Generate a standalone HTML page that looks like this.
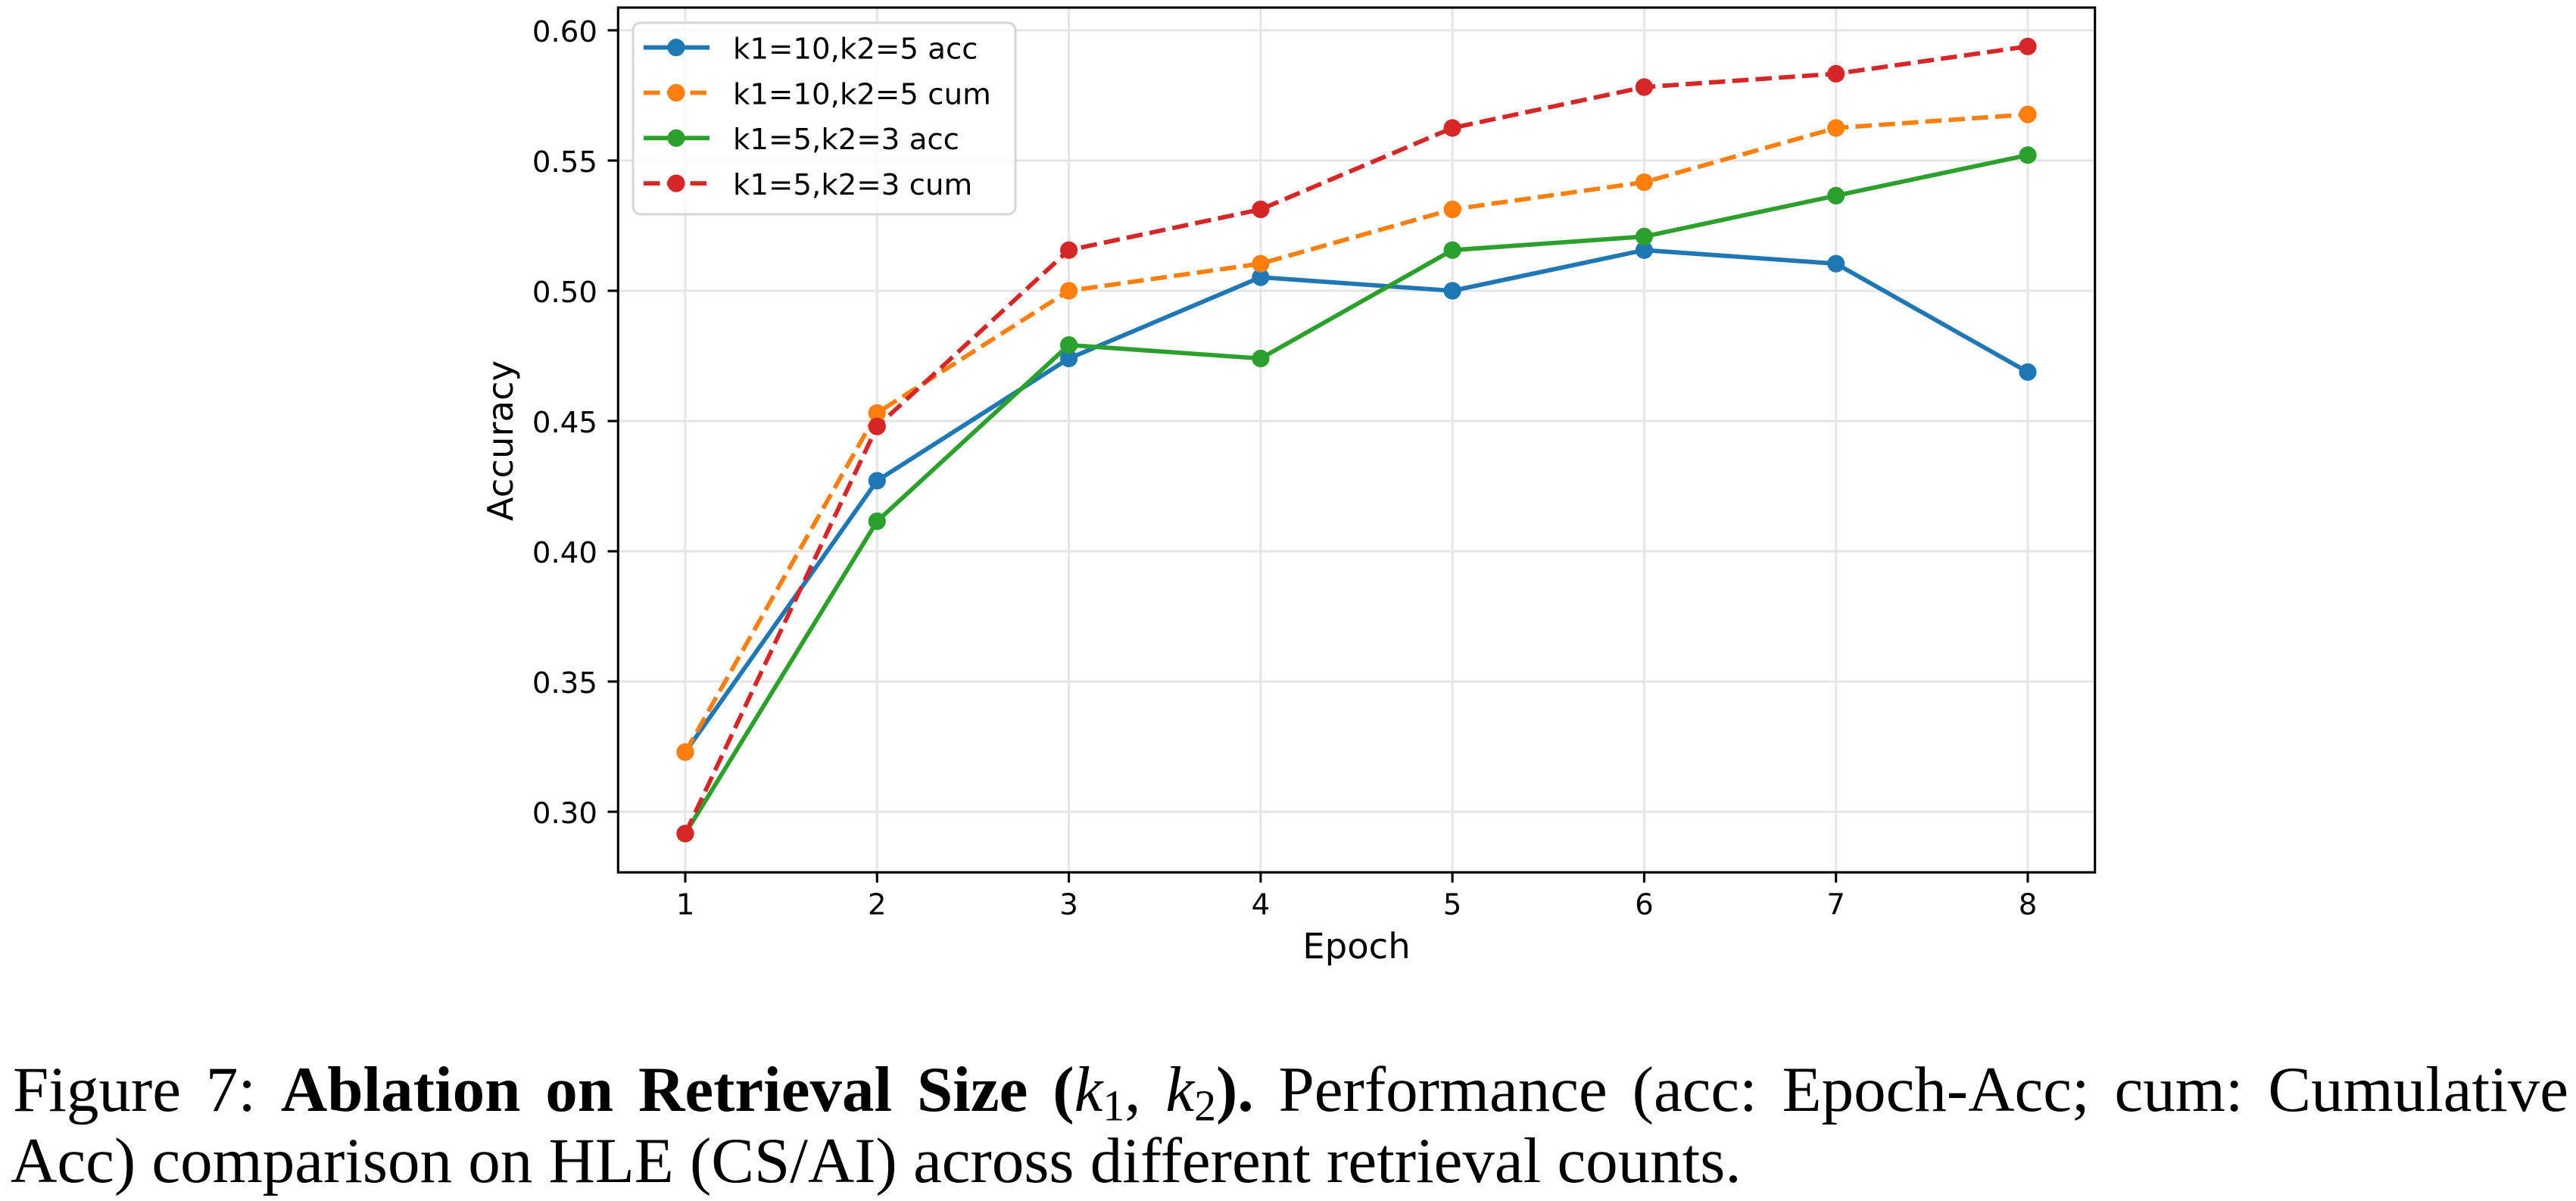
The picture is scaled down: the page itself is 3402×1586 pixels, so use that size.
<!DOCTYPE html>
<html>
<head>
<meta charset="utf-8">
<style>
  html, body { margin:0; padding:0; background:#ffffff; }
  body { width:3402px; height:1586px; position:relative; overflow:hidden; }
  svg { position:absolute; left:0; top:0; }
  .cap { position:absolute; left:17px; width:3375px; font-family:"Liberation Serif","Times New Roman",serif; font-size:85px; line-height:94px; color:#000; white-space:nowrap; }
  .l1 { top:1392px; text-align:justify; text-align-last:justify; }
  .l2 { top:1486px; left:14px; text-align:left; }
  .cap b { font-weight:bold; }
  .cap i { font-style:italic; }
  .cap sub { font-size:0.68em; vertical-align:-0.22em; line-height:0; }
</style>
</head>
<body>
<svg width="3402" height="1586" viewBox="0 0 3402 1586" xmlns="http://www.w3.org/2000/svg">
  <rect x="0" y="0" width="3402" height="1586" fill="#ffffff"/>
  <!-- grid -->
  <g stroke="#e6e6e6" stroke-width="3" fill="none">
    <line x1="905" y1="10" x2="905" y2="1152"/>
    <line x1="1158.3" y1="10" x2="1158.3" y2="1152"/>
    <line x1="1411.6" y1="10" x2="1411.6" y2="1152"/>
    <line x1="1664.9" y1="10" x2="1664.9" y2="1152"/>
    <line x1="1918.1" y1="10" x2="1918.1" y2="1152"/>
    <line x1="2171.4" y1="10" x2="2171.4" y2="1152"/>
    <line x1="2424.7" y1="10" x2="2424.7" y2="1152"/>
    <line x1="2678" y1="10" x2="2678" y2="1152"/>
    <line x1="816" y1="1072" x2="2767" y2="1072"/>
    <line x1="816" y1="900" x2="2767" y2="900"/>
    <line x1="816" y1="728" x2="2767" y2="728"/>
    <line x1="816" y1="556" x2="2767" y2="556"/>
    <line x1="816" y1="384" x2="2767" y2="384"/>
    <line x1="816" y1="212" x2="2767" y2="212"/>
    <line x1="816" y1="40" x2="2767" y2="40"/>
  </g>

  <!-- series -->
  <g fill="none" stroke-width="5.8" stroke-linejoin="round">
    <polyline stroke="#1f77b4" points="905,993.2 1158.3,634.8 1411.6,473.4 1664.9,366.1 1918.1,384 2171.4,330.3 2424.7,348.2 2678,491.3"/>
    <polyline stroke="#ff7f0e" stroke-dasharray="21.5 9.3" points="905,993.2 1158.3,545.3 1411.6,384 1664.9,348.2 1918.1,276.5 2171.4,240.6 2424.7,169 2678,151.1"/>
    <polyline stroke="#2ca02c" points="905,1100.8 1158.3,688.4 1411.6,455.6 1664.9,473.4 1918.1,330.3 2171.4,312.4 2424.7,258.4 2678,204.8"/>
    <polyline stroke="#d62728" stroke-dasharray="21.5 9.3" points="905,1100.8 1158.3,563.2 1411.6,330.3 1664.9,276.5 1918.1,169 2171.4,115 2424.7,97.4 2678,61.3"/>
  </g>
  <g fill="#1f77b4">
    <circle cx="905" cy="993.2" r="11.6"/><circle cx="1158.3" cy="634.8" r="11.6"/><circle cx="1411.6" cy="473.4" r="11.6"/><circle cx="1664.9" cy="366.1" r="11.6"/><circle cx="1918.1" cy="384" r="11.6"/><circle cx="2171.4" cy="330.3" r="11.6"/><circle cx="2424.7" cy="348.2" r="11.6"/><circle cx="2678" cy="491.3" r="11.6"/>
  </g>
  <g fill="#ff7f0e">
    <circle cx="905" cy="993.2" r="11.6"/><circle cx="1158.3" cy="545.3" r="11.6"/><circle cx="1411.6" cy="384" r="11.6"/><circle cx="1664.9" cy="348.2" r="11.6"/><circle cx="1918.1" cy="276.5" r="11.6"/><circle cx="2171.4" cy="240.6" r="11.6"/><circle cx="2424.7" cy="169" r="11.6"/><circle cx="2678" cy="151.1" r="11.6"/>
  </g>
  <g fill="#2ca02c">
    <circle cx="905" cy="1100.8" r="11.6"/><circle cx="1158.3" cy="688.4" r="11.6"/><circle cx="1411.6" cy="455.6" r="11.6"/><circle cx="1664.9" cy="473.4" r="11.6"/><circle cx="1918.1" cy="330.3" r="11.6"/><circle cx="2171.4" cy="312.4" r="11.6"/><circle cx="2424.7" cy="258.4" r="11.6"/><circle cx="2678" cy="204.8" r="11.6"/>
  </g>
  <g fill="#d62728">
    <circle cx="905" cy="1100.8" r="11.6"/><circle cx="1158.3" cy="563.2" r="11.6"/><circle cx="1411.6" cy="330.3" r="11.6"/><circle cx="1664.9" cy="276.5" r="11.6"/><circle cx="1918.1" cy="169" r="11.6"/><circle cx="2171.4" cy="115" r="11.6"/><circle cx="2424.7" cy="97.4" r="11.6"/><circle cx="2678" cy="61.3" r="11.6"/>
  </g>

  <!-- spines -->
  <rect x="816.3" y="10" width="1950.4" height="1142" fill="none" stroke="#000" stroke-width="3.1"/>

  <!-- ticks -->
  <g stroke="#000" stroke-width="3.1">
    <line x1="802.5" y1="1072" x2="816.3" y2="1072"/>
    <line x1="802.5" y1="900" x2="816.3" y2="900"/>
    <line x1="802.5" y1="728" x2="816.3" y2="728"/>
    <line x1="802.5" y1="556" x2="816.3" y2="556"/>
    <line x1="802.5" y1="384" x2="816.3" y2="384"/>
    <line x1="802.5" y1="212" x2="816.3" y2="212"/>
    <line x1="802.5" y1="40" x2="816.3" y2="40"/>
    <line x1="905" y1="1152" x2="905" y2="1165.5"/>
    <line x1="1158.3" y1="1152" x2="1158.3" y2="1165.5"/>
    <line x1="1411.6" y1="1152" x2="1411.6" y2="1165.5"/>
    <line x1="1664.9" y1="1152" x2="1664.9" y2="1165.5"/>
    <line x1="1918.1" y1="1152" x2="1918.1" y2="1165.5"/>
    <line x1="2171.4" y1="1152" x2="2171.4" y2="1165.5"/>
    <line x1="2424.7" y1="1152" x2="2424.7" y2="1165.5"/>
    <line x1="2678" y1="1152" x2="2678" y2="1165.5"/>
  </g>

  <!-- tick labels -->
  <g font-family="DejaVu Sans, Liberation Sans, sans-serif" font-size="38.7" fill="#000">
    <g text-anchor="end">
      <text x="789" y="1087">0.30</text>
      <text x="789" y="915">0.35</text>
      <text x="789" y="743">0.40</text>
      <text x="789" y="571">0.45</text>
      <text x="789" y="399">0.50</text>
      <text x="789" y="227">0.55</text>
      <text x="789" y="55">0.60</text>
    </g>
    <g text-anchor="middle">
      <text x="905" y="1207.7">1</text>
      <text x="1158.3" y="1207.7">2</text>
      <text x="1411.6" y="1207.7">3</text>
      <text x="1664.9" y="1207.7">4</text>
      <text x="1918.1" y="1207.7">5</text>
      <text x="2171.4" y="1207.7">6</text>
      <text x="2424.7" y="1207.7">7</text>
      <text x="2678" y="1207.7">8</text>
    </g>
  </g>

  <!-- axis labels -->
  <g font-family="DejaVu Sans, Liberation Sans, sans-serif" font-size="46.5" fill="#000" text-anchor="middle">
    <text x="1791.5" y="1265.7">Epoch</text>
    <text transform="translate(677,582) rotate(-90)">Accuracy</text>
  </g>

  <!-- legend -->
  <rect x="836" y="30" width="505" height="253" rx="10" ry="10" fill="#ffffff" fill-opacity="0.8" stroke="#d6d6d6" stroke-width="3"/>
  <g stroke-width="5.8" fill="none">
    <line x1="850" y1="62.7" x2="937" y2="62.7" stroke="#1f77b4"/>
    <line x1="850" y1="122.5" x2="937" y2="122.5" stroke="#ff7f0e" stroke-dasharray="21.5 9.3"/>
    <line x1="850" y1="182.3" x2="937" y2="182.3" stroke="#2ca02c"/>
    <line x1="850" y1="242.1" x2="937" y2="242.1" stroke="#d62728" stroke-dasharray="21.5 9.3"/>
  </g>
  <circle cx="893" cy="62.7" r="11.6" fill="#1f77b4"/>
  <circle cx="893" cy="122.5" r="11.6" fill="#ff7f0e"/>
  <circle cx="893" cy="182.3" r="11.6" fill="#2ca02c"/>
  <circle cx="893" cy="242.1" r="11.6" fill="#d62728"/>
  <g font-family="DejaVu Sans, Liberation Sans, sans-serif" font-size="38.7" fill="#000">
    <text x="968" y="77.5">k1=10,k2=5 acc</text>
    <text x="968" y="137.3">k1=10,k2=5 cum</text>
    <text x="968" y="197.1">k1=5,k2=3 acc</text>
    <text x="968" y="256.9">k1=5,k2=3 cum</text>
  </g>
</svg>

<div class="cap l1">Figure 7: <b>Ablation on Retrieval Size (</b><i>k</i><sub>1</sub>, <i>k</i><sub>2</sub><b>).</b> Performance (acc: Epoch-Acc; cum: Cumulative</div>
<div class="cap l2">Acc) comparison on HLE (CS/AI) across different retrieval counts.</div>
</body>
</html>
